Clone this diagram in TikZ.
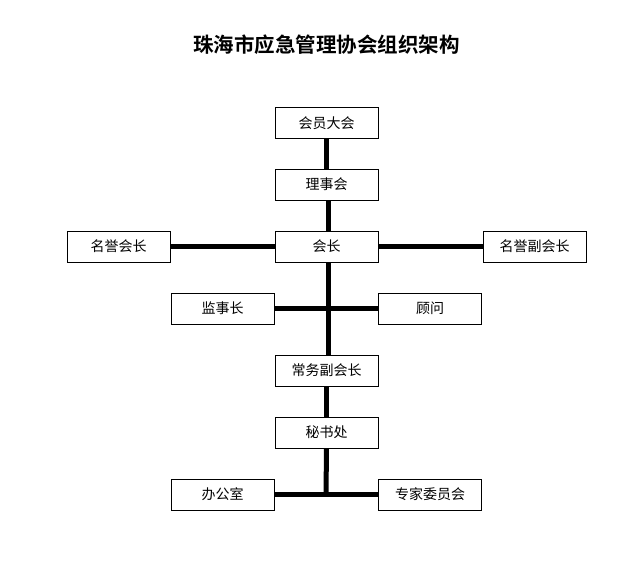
\documentclass[tikz,border=0pt]{standalone}
\usepackage{fontspec}
\setmainfont{Noto Sans CJK SC}
\newfontfamily\cjkbold{Noto Sans CJK SC Bold}
\begin{document}
\begin{tikzpicture}[x=1pt,y=-1pt,
  box/.style={draw=black,line width=0.8pt,minimum width=103pt,minimum height=31pt,inner sep=0pt,font=\fontsize{14pt}{16pt}\selectfont,fill=white},
  conn/.style={line width=5pt}]
\useasboundingbox (0,0) rectangle (627,579);
\node[font=\cjkbold\fontsize{20.5pt}{24pt}\selectfont] (title) at (326.5,45) {珠海市应急管理协会组织架构};
\node[box] (dh) at (326.5,123) {会员大会};
\node[box] (lsh) at (326.5,184.5) {理事会};
\node[box] (hz) at (326.5,246.5) {会长};
\node[box] (myhz) at (118.5,246.5) {名誉会长};
\node[box] (myfhz) at (534.5,246.5) {名誉副会长};
\node[box] (jsz) at (222.5,308.5) {监事长};
\node[box] (gw) at (430,308.5) {顾问};
\node[box] (cwfhz) at (326.5,370.5) {常务副会长};
\node[box] (msc) at (326.5,432.5) {秘书处};
\node[box] (bgs) at (222.5,494.5) {办公室};
\node[box] (zjwyh) at (430,494.5) {专家委员会};
\coordinate (c1) at (328,309);
\coordinate (c2) at (326,494.5);
\begin{scope}[on background layer/.style={}]
\draw[conn] (dh.south) -- (lsh.north);
\draw[conn] ([xshift=1.5pt]lsh.south) -- ([xshift=1.5pt]hz.north);
\draw[conn] (myhz.east) -- (hz.west);
\draw[conn] (hz.east) -- (myfhz.west);
\draw[conn] ([xshift=1.5pt]hz.south) -- ([xshift=1.5pt]cwfhz.north);
\draw[conn] (jsz.east) -- (gw.west);
\draw[conn] (cwfhz.south) -- (msc.north);
\draw[conn] (msc.south) -- (c2);
\draw[conn] (bgs.east) -- (zjwyh.west);
\end{scope}
\end{tikzpicture}
\end{document}
